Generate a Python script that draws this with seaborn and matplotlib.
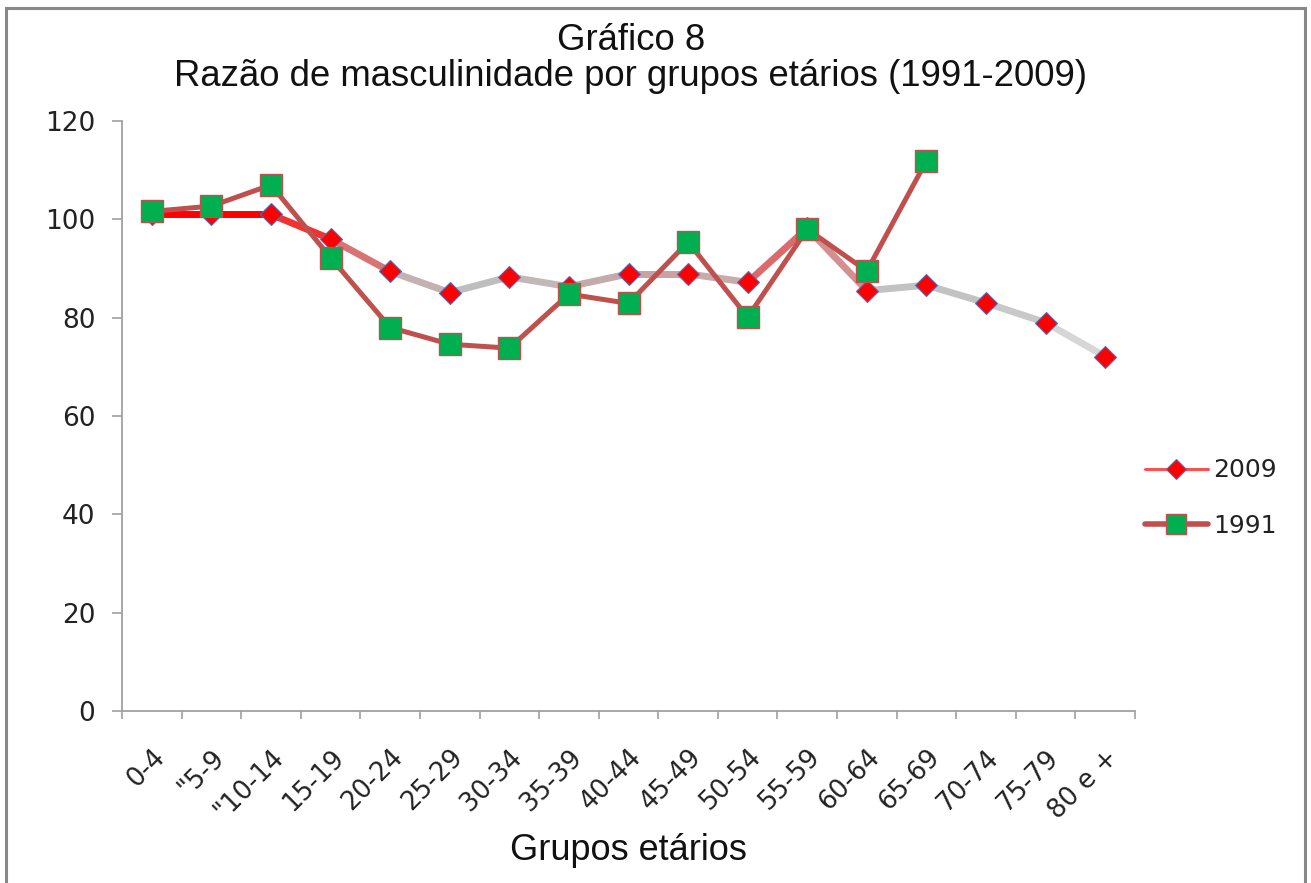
import matplotlib
matplotlib.use("Agg")
import matplotlib.pyplot as plt
import seaborn as sns
import numpy as np
import pandas as pd
from matplotlib.collections import LineCollection
from matplotlib.lines import Line2D
from matplotlib.patches import Rectangle

# ---- data ----
categories = ["0-4", "\"5-9", "\"10-14", "15-19", "20-24", "25-29", "30-34", "35-39",
              "40-44", "45-49", "50-54", "55-59", "60-64", "65-69", "70-74", "75-79", "80 e +"]
values_2009 = [101.0, 101.0, 101.0, 96.0, 89.4, 85.1, 88.3, 86.3, 88.9, 88.9, 87.2,
               98.2, 85.5, 86.6, 83.0, 79.0, 72.1]
values_1991 = [101.6, 102.7, 107.0, 92.2, 78.0, 74.6, 73.8, 84.8, 82.9, 95.4, 80.1,
               98.0, 89.5, 111.9]
yticks = [0, 20, 40, 60, 80, 100, 120]

# per-segment colours of the 2009 line (Excel gradient look)
seg_colors_2009 = ["#FF0000", "#FF0000", "#F23232", "#D87474", "#C4B2B2", "#BEBEBE",
                   "#C2B8B8", "#C2ABAB", "#C9A2A2", "#C9ABAB", "#DC6A6A", "#D39090",
                   "#C2C2C2", "#C2C2C2", "#C9C9C9", "#D6D6D6"]

sns.set_style("white")
plt.rcParams["font.family"] = ["Liberation Sans", "DejaVu Sans"]
tick_font = ["DejaVu Sans"]

fig = plt.figure(figsize=(13.11, 8.83), dpi=100)
ax = fig.add_axes([122 / 1311, 1 - 711 / 883, (1135 - 122) / 1311, (711 - 121) / 883])

x09 = np.arange(len(values_2009))
x91 = np.arange(len(values_1991))
df09 = pd.DataFrame({"x": x09, "v": values_2009})
df91 = pd.DataFrame({"x": x91, "v": values_1991})

# 2009 line as coloured segments
pts = np.column_stack([x09, values_2009]).reshape(-1, 1, 2)
segs = np.concatenate([pts[:-1], pts[1:]], axis=1)
lc = LineCollection(segs, colors=seg_colors_2009, linewidths=5.0, capstyle="round",
                    joinstyle="round", zorder=2)
ax.add_collection(lc)

# 2009 markers
sns.lineplot(data=df09, x="x", y="v", ax=ax, linestyle="none", marker="D",
             markersize=11.5, markerfacecolor="#FF0000", markeredgecolor="#4F6BC0",
             markeredgewidth=0.8, zorder=3)
# 1991 line + markers
sns.lineplot(data=df91, x="x", y="v", ax=ax, color="#C0504D", linewidth=3.6,
             marker="s", markersize=15.5, markerfacecolor="#00B050",
             markeredgecolor="#C0504D", markeredgewidth=1.0, zorder=4)

ax.set_xlim(-0.5, len(categories) - 0.5)
ax.set_ylim(0, 120)
ax.set_yticks(yticks)
ax.set_yticklabels([str(t) for t in yticks], fontsize=19, family=tick_font)
ax.set_xticks(np.arange(len(categories)))
ax.set_xticklabels(categories, rotation=45, ha="right", rotation_mode="anchor",
                   fontsize=18.5, family=tick_font)
ax.set_xticks(np.arange(len(categories) + 1) - 0.5, minor=True)
ax.tick_params(axis="x", which="major", bottom=True, length=0, pad=24)
ax.tick_params(axis="x", which="minor", bottom=True, length=5.8, width=1.2,
               color="#A0A0A0", direction="out")
ax.tick_params(axis="y", which="major", left=True, length=7.2, width=1.2,
               color="#A0A0A0", direction="out", pad=12)
ax.tick_params(which="both", labelcolor="#222222")

for s in ["top", "right"]:
    ax.spines[s].set_visible(False)
for s in ["left", "bottom"]:
    ax.spines[s].set_color("#A0A0A0")
    ax.spines[s].set_linewidth(1.3)

ax.set_xlabel("Grupos etários", fontsize=26, color="#111111", va="center")
ax.xaxis.set_label_coords(0.5, (711 - 851) / 590)
ax.set_ylabel("")
ax.grid(False)

fig.text(631 / 1311, 1 - 40 / 883, "Gráfico 8", ha="center", va="center", fontsize=26.3,
         color="#111111")
fig.text(631 / 1311, 1 - 77 / 883, "Razão de masculinidade por grupos etários (1991-2009)",
         ha="center", va="center", fontsize=26.3, color="#111111")

handles = [
    Line2D([], [], color="#FF5050", linewidth=2.2, marker="D", markersize=10,
           markerfacecolor="#FF0000", markeredgecolor="#4F6BC0", markeredgewidth=0.8),
    Line2D([], [], color="#C0504D", linewidth=4, marker="s", markersize=14,
           markerfacecolor="#00B050", markeredgecolor="#C0504D", markeredgewidth=1.0),
]
leg = fig.legend(handles, ["2009", "1991"], loc="center left",
                 bbox_to_anchor=(1122 / 1311, 1 - 498 / 883), frameon=False,
                 handlelength=2.55, handletextpad=0.2, labelspacing=1.25,
                 prop={"family": tick_font, "size": 18})
for t in leg.get_texts():
    t.set_color("#222222")

# outer chart frame
fig.patches.append(Rectangle((6 / 1311, -0.02), (1305 - 6) / 1311, 1.02 - 8 / 883,
                             transform=fig.transFigure, fill=False, edgecolor="#888888",
                             linewidth=2.2, zorder=0))

fig.savefig("out.png", dpi=100)
